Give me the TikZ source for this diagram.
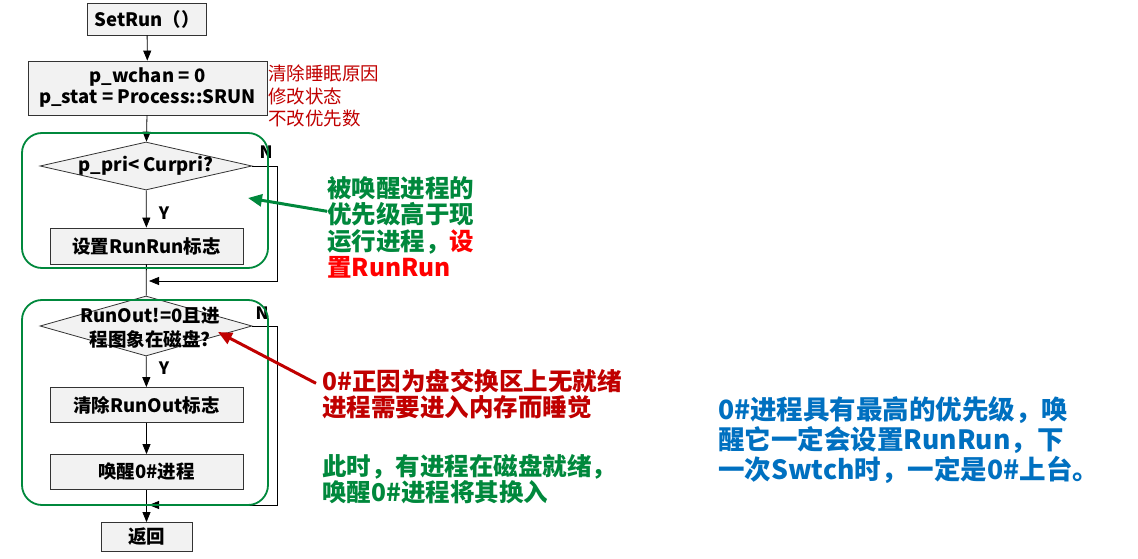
\documentclass[tikz,border=0pt]{standalone}
\usepackage{fontspec}
\setmainfont{Noto Sans CJK SC}
\usetikzlibrary{shapes.geometric,arrows.meta}
\definecolor{boxgray}{RGB}{242,242,242}
\definecolor{tagred}{RGB}{192,0,0}
\definecolor{hotred}{RGB}{255,0,0}
\definecolor{noteg}{RGB}{0,136,60}
\definecolor{noteblue}{RGB}{0,112,192}
\begin{document}
\begin{tikzpicture}[x=1pt,y=-1pt,
  box/.style={draw=black!80,fill=boxgray,line width=0.8pt,inner sep=0pt,font=\fontsize{18.5}{21}\selectfont\bfseries},
  cond/.style={diamond,draw=black!80,fill=boxgray,line width=0.8pt,inner sep=0pt},
  condtext/.style={inner sep=0pt,align=center,font=\fontsize{18.5}{24}\selectfont\bfseries},
  flow/.style={-{Triangle[length=10pt,width=8pt]},line width=0.8pt},
  yn/.style={inner sep=0pt,font=\fontsize{17}{18}\selectfont\bfseries},
  loopframe/.style={draw=noteg,line width=1.8pt,rounded corners=20pt},
  hint/.style={line width=3pt,-{Triangle[length=14pt,width=12pt]}},
  note/.style={inner sep=0pt,anchor=north west,align=left,font=\fontsize{24.5}{26.5}\selectfont\bfseries}]
  \useasboundingbox (0,0) rectangle (1138,559);
  % flow chart
  \node[box,minimum width=119pt,minimum height=32pt] (setrun) at (147,19) {SetRun（）};
  \node[box,minimum width=239pt,minimum height=54pt,align=center] (init) at (147.5,88) {p\_wchan = 0\\p\_stat = Process::SRUN};
  \node[cond,minimum width=212pt,minimum height=48pt] (pri) at (146,166) {};
  \node[condtext] (pritext) at (146,166) {p\_pri< Curpri?};
  \node[box,minimum width=193pt,minimum height=36pt] (setflag) at (146.5,246) {设置RunRun标志};
  \node[cond,minimum width=212pt,minimum height=60pt] (out) at (146,326) {};
  \node[condtext] (outtext) at (150,328) {RunOut!=0且进\\程图象在磁盘?};
  \node[box,minimum width=193pt,minimum height=35pt] (clear) at (146.5,405) {清除RunOut标志};
  \node[box,minimum width=193pt,minimum height=35pt] (wake) at (146.5,472) {唤醒0\#进程};
  \node[box,minimum width=91pt,minimum height=29pt] (ret) at (146.5,537) {返回};
  \coordinate (join1) at (149,281);
  \coordinate (join2) at (149,505);
  \draw[flow] (setrun) -- (init);
  \draw[flow] (init) -- (pri);
  \draw[flow] (pri) -- (setflag);
  \draw[line width=0.8pt] (setflag) -- (out);
  \draw[flow] (pri.east) -- ++(25,0) |- (join1);
  \draw[flow] (out) -- (clear);
  \draw[flow] (clear) -- (wake);
  \draw[flow] (wake) -- (ret);
  \draw[flow] (out.east) -- ++(25,0) |- (join2);
  \node[yn] (y1) at (164,213) {Y};
  \node[yn] (n1) at (266,152) {N};
  \node[yn] (y2) at (164,368) {Y};
  \node[yn] (n2) at (262,313) {N};
  \draw[loopframe] (22,133) rectangle (268,268);
  \draw[loopframe] (22,300) rectangle (268,505);
  % notes
  \node[inner sep=0pt,anchor=north west,align=left,text=tagred,font=\fontsize{18.5}{22.5}\selectfont] (tagnote) at (268,65) {清除睡眠原因\\修改状态\\不改优先数};
  \node[note,text=noteg] (wakenote) at (327,176) {被唤醒进程的\\优先级高于现\\运行进程，\textcolor{hotred}{设}\\\textcolor{hotred}{置RunRun}};
  \node[note,text=tagred] (swapnote) at (322,369) {0\#正因为盘交换区上无就绪\\进程需要进入内存而睡觉};
  \node[note,text=noteg] (readynote) at (322,454) {此时，有进程在磁盘就绪，\\唤醒0\#进程将其换入};
  \node[note,text=noteblue,font=\fontsize{26.5}{30}\selectfont\bfseries] (zeronote) at (718,396) {0\#进程具有最高的优先级，唤\\醒它一定会设置RunRun，下\\一次Swtch时，一定是0\#上台。};
  \coordinate (gtip) at (248,198);
  \coordinate (rtip) at (218,332);
  \draw[hint,draw=noteg,fill=noteg] ([yshift=16pt]wakenote.west) -- (gtip);
  \draw[hint,draw=tagred,fill=tagred] ([yshift=11pt,xshift=-6pt]swapnote.west) -- (rtip);
\end{tikzpicture}
\end{document}
